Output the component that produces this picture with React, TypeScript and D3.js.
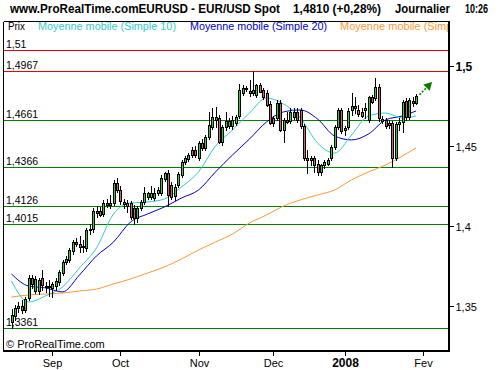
import * as d3 from 'd3';

const WIDTH = 500;
const HEIGHT = 370;
const FRAME = { left: 3.5, right: 449, top: 21.5, bottom: 350.5 };
const FONT = '"Liberation Sans", Arial, sans-serif';

// daily bars, 16 Aug 2007 -> 30 Jan 2008
const opens = [
  1.34, 1.3438, 1.3488, 1.35, 1.3475, 1.355, 1.3675, 1.3594, 1.3594, 1.3675,
  1.3619, 1.3619, 1.3613, 1.3625, 1.365, 1.3706, 1.3775, 1.3788, 1.3844, 1.39,
  1.3888, 1.3869, 1.3863, 1.3975, 1.3981, 1.4094, 1.4094, 1.4075, 1.4144, 1.4131,
  1.4144, 1.4269, 1.4225, 1.415, 1.4125, 1.4144, 1.4113, 1.405, 1.4113, 1.415,
  1.4181, 1.4181, 1.4175, 1.4206, 1.4206, 1.4294, 1.4331, 1.4256, 1.4188, 1.4256,
  1.4319, 1.44, 1.4419, 1.4475, 1.4475, 1.4425, 1.4519, 1.4488, 1.4556, 1.4619,
  1.4663, 1.4675, 1.4525, 1.4619, 1.4625, 1.4625, 1.4644, 1.4688, 1.4831, 1.4863,
  1.4844, 1.4831, 1.4819, 1.4881, 1.485, 1.4831, 1.4763, 1.4675, 1.4675, 1.4769,
  1.46, 1.4663, 1.4656, 1.4681, 1.4713, 1.4725, 1.4625, 1.4425, 1.4413, 1.4425,
  1.4388, 1.4338, 1.4381, 1.4388, 1.4425, 1.4494, 1.4619, 1.4725, 1.46, 1.4619,
  1.4725, 1.475, 1.4725, 1.4713, 1.4725, 1.4663, 1.4806, 1.48, 1.4869, 1.4669,
  1.4663, 1.4644, 1.4644, 1.4425, 1.4638, 1.465, 1.4781, 1.4681, 1.4781, 1.4769,
];
const highs = [
  1.3481, 1.3506, 1.3525, 1.3538, 1.3556, 1.3694, 1.3694, 1.3688, 1.3675, 1.3725,
  1.365, 1.3663, 1.365, 1.3675, 1.3725, 1.3788, 1.3813, 1.3863, 1.3913, 1.3925,
  1.3938, 1.3913, 1.3988, 1.4013, 1.4113, 1.4125, 1.4119, 1.4163, 1.4169, 1.4194,
  1.4288, 1.43, 1.425, 1.4169, 1.4163, 1.4156, 1.4131, 1.4125, 1.4163, 1.4244,
  1.4213, 1.425, 1.4238, 1.4244, 1.4319, 1.4338, 1.435, 1.4275, 1.4263, 1.4338,
  1.4413, 1.4438, 1.4456, 1.4494, 1.45, 1.4531, 1.4544, 1.4569, 1.4713, 1.4738,
  1.4744, 1.4694, 1.4631, 1.4713, 1.4675, 1.4688, 1.4694, 1.4888, 1.4881, 1.4875,
  1.4913, 1.4967, 1.4888, 1.4894, 1.4863, 1.485, 1.4781, 1.4688, 1.4788, 1.4788,
  1.4675, 1.4713, 1.4738, 1.4738, 1.4738, 1.4738, 1.4638, 1.4475, 1.4438, 1.4438,
  1.4413, 1.4388, 1.4413, 1.4425, 1.4506, 1.4631, 1.4738, 1.4738, 1.4625, 1.4738,
  1.4831, 1.4806, 1.4756, 1.4738, 1.4769, 1.4813, 1.4819, 1.4925, 1.4888, 1.4688,
  1.4675, 1.4663, 1.4656, 1.465, 1.4675, 1.4788, 1.48, 1.48, 1.4806, 1.4825,
];
const lows = [
  1.3361, 1.3413, 1.3463, 1.3456, 1.3463, 1.3538, 1.3613, 1.3581, 1.3575, 1.36,
  1.3588, 1.3563, 1.3556, 1.36, 1.3631, 1.3694, 1.3763, 1.3775, 1.3825, 1.3875,
  1.3838, 1.3838, 1.3844, 1.395, 1.3963, 1.4056, 1.4063, 1.4063, 1.4119, 1.4113,
  1.4131, 1.4213, 1.4138, 1.4113, 1.4088, 1.4044, 1.4015, 1.4025, 1.41, 1.4138,
  1.4169, 1.4169, 1.4163, 1.4194, 1.4194, 1.4281, 1.4126, 1.4169, 1.4163, 1.4244,
  1.4306, 1.4388, 1.4406, 1.4431, 1.4431, 1.4413, 1.4475, 1.4475, 1.4544, 1.4606,
  1.4619, 1.4519, 1.4506, 1.46, 1.4613, 1.4606, 1.4631, 1.4675, 1.4819, 1.4844,
  1.4813, 1.4819, 1.4806, 1.4844, 1.4794, 1.475, 1.4638, 1.4625, 1.4663, 1.4594,
  1.4525, 1.4644, 1.4644, 1.4669, 1.465, 1.4613, 1.4413, 1.4331, 1.4381, 1.4338,
  1.4319, 1.4319, 1.4363, 1.4381, 1.4413, 1.4481, 1.4606, 1.4581, 1.4569, 1.4606,
  1.4694, 1.4706, 1.4688, 1.4681, 1.4675, 1.465, 1.4769, 1.4788, 1.4656, 1.4644,
  1.4613, 1.4613, 1.4366, 1.4413, 1.46, 1.4588, 1.4663, 1.4669, 1.475, 1.4763,
];
const closes = [
  1.3444, 1.3488, 1.35, 1.3475, 1.3544, 1.3675, 1.3638, 1.3669, 1.3663, 1.3631,
  1.3625, 1.3625, 1.3638, 1.3656, 1.3713, 1.3775, 1.3794, 1.385, 1.39, 1.3888,
  1.3869, 1.3875, 1.3975, 1.3981, 1.4094, 1.4081, 1.4069, 1.4144, 1.4131, 1.4144,
  1.4269, 1.4225, 1.4156, 1.4138, 1.4144, 1.4056, 1.405, 1.4113, 1.415, 1.4206,
  1.4206, 1.4206, 1.4206, 1.4225, 1.43, 1.4331, 1.4194, 1.4181, 1.4244, 1.4325,
  1.44, 1.4425, 1.4444, 1.4444, 1.4444, 1.4519, 1.4488, 1.4556, 1.4631, 1.4681,
  1.4681, 1.4525, 1.4619, 1.4656, 1.4656, 1.4663, 1.4681, 1.485, 1.4863, 1.4856,
  1.4831, 1.485, 1.4881, 1.4838, 1.4806, 1.4756, 1.4644, 1.4644, 1.4769, 1.46,
  1.4663, 1.465, 1.4713, 1.4713, 1.4663, 1.4625, 1.4425, 1.4413, 1.4425, 1.4381,
  1.4338, 1.4381, 1.44, 1.4413, 1.4494, 1.4619, 1.4725, 1.4594, 1.4613, 1.4719,
  1.475, 1.4738, 1.47, 1.4688, 1.4738, 1.4806, 1.4775, 1.4869, 1.4675, 1.4656,
  1.4625, 1.4631, 1.4425, 1.4638, 1.465, 1.4775, 1.4681, 1.4788, 1.4769, 1.481,
];

// moving averages read every 5 bars
const maIndex = [0, 5, 10, 15, 20, 25, 30, 35, 40, 45, 50, 55, 60, 65, 70, 75, 80, 85, 90, 95, 100, 105, 110, 115, 119];
const ma10 = [
  1.3656, 1.3525, 1.3563, 1.3619, 1.3738, 1.3863, 1.4075, 1.4144, 1.415, 1.4169, 1.4244, 1.4338, 1.45,
  1.46, 1.4706, 1.48, 1.4763, 1.4675, 1.4519, 1.4456, 1.4569, 1.4688, 1.4706, 1.4675, 1.4688,
];
const ma20 = [
  1.37, 1.3625, 1.3613, 1.3588, 1.3694, 1.3813, 1.39, 1.4025, 1.4075, 1.4119, 1.4175, 1.4225, 1.4338,
  1.4444, 1.4544, 1.465, 1.4713, 1.4725, 1.4669, 1.4563, 1.4538, 1.4575, 1.4663, 1.4688, 1.4719,
];
const maLong = [
  1.3556, 1.3569, 1.3575, 1.3581, 1.3594, 1.3606, 1.3638, 1.3669, 1.3706, 1.3744, 1.3794, 1.385, 1.39,
  1.395, 1.4019, 1.4069, 1.4125, 1.4163, 1.4194, 1.4225, 1.4288, 1.4338, 1.4381, 1.4438, 1.4488,
];

const monthLabels = ['Sep', 'Oct', 'Nov', 'Dec', '2008', 'Fev'];
const monthIndex = [12, 32, 55, 77, 98, 121];
const yTicks = [1.35, 1.4, 1.45, 1.5];
const resistanceLevels = [1.51, 1.4967];
const supportLevels = [1.4661, 1.4366, 1.4126, 1.4015, 1.3361];
const trendArrow = { fromIndex: 120, fromPrice: 1.482, toIndex: 123.7, toPrice: 1.49 };

const legendLabels = ['Prix', 'Moyenne mobile (Simple 10)', 'Moyenne mobile (Simple 20)', 'Moyenne mobile (Simple 100)'];
const legendColors = ['#000000', '#33cccc', '#0000cc', '#ff9933'];
const legendX = [8, 38, 190, 340];
const legendW = [17, 138, 137, 146];

const fr = d3.formatLocale({ decimal: ',', thousands: ' ', grouping: [3], currency: ['', ''] });
const fmt = fr.format('~g');

const App = () => {
  const xScale = d3.scaleLinear().domain([0, 119]).range([11.5, 416.1]);
  const yScale = d3.scaleLinear().domain([1.35, 1.5]).range([306, 66]);

  const maLine = (values: number[]) =>
    d3
      .line<number>()
      .x((_, k) => xScale(maIndex[k]))
      .y((d) => yScale(d))
      .curve(d3.curveMonotoneX)(values) || '';

  const candles = closes.map((c, i) => {
    const cx = Math.round(xScale(i));
    const o = opens[i];
    const top = Math.round(yScale(Math.max(o, c)));
    const bot = Math.round(yScale(Math.min(o, c)));
    const up = c >= o;
    return (
      <g key={i}>
        <line
          x1={cx + 0.5}
          x2={cx + 0.5}
          y1={Math.round(yScale(highs[i]))}
          y2={Math.round(yScale(lows[i])) + 1}
          stroke="#000"
          strokeWidth={1}
        />
        <rect
          x={cx - 0.5}
          y={top + 0.5}
          width={2}
          height={Math.max(bot - top, 1)}
          fill={up ? '#33cc33' : '#cc6666'}
          stroke="#000"
          strokeWidth={1}
        />
      </g>
    );
  });

  const levelLine = (v: number, color: string) => {
    const y = Math.round(yScale(v)) + 0.5;
    return (
      <g key={v}>
        <line x1={FRAME.left} x2={FRAME.right - 1} y1={y} y2={y} stroke={color} strokeWidth={1} />
        <text x={6} y={y - 2.5} fontSize={10.5} fill="#000">
          {fmt(v)}
        </text>
      </g>
    );
  };

  const ax0 = xScale(trendArrow.fromIndex);
  const ay0 = yScale(trendArrow.fromPrice);
  const ax1 = xScale(trendArrow.toIndex);
  const ay1 = yScale(trendArrow.toPrice);
  const ang = Math.atan2(ay1 - ay0, ax1 - ax0);
  const headLen = 8;
  const headW = 4.5;
  const bx = ax1 - headLen * Math.cos(ang);
  const by = ay1 - headLen * Math.sin(ang);
  const head = [
    [ax1, ay1],
    [bx + headW * Math.sin(ang), by - headW * Math.cos(ang)],
    [bx - headW * Math.sin(ang), by + headW * Math.cos(ang)],
  ];

  return (
    <svg
      width={WIDTH}
      height={HEIGHT}
      style={{ position: 'absolute', left: 0, top: 0, background: '#fff' }}
      fontFamily={FONT}
    >
      <defs>
        <clipPath id="plot">
          <rect x={FRAME.left} y={FRAME.top} width={FRAME.right - FRAME.left - 1} height={FRAME.bottom - FRAME.top} />
        </clipPath>
      </defs>
      <rect width={WIDTH} height={HEIGHT} fill="#fff" />

      {/* header */}
      <g fontWeight="bold" fontSize={12.5} fill="#000">
        <text x={10} y={13} textLength={270} lengthAdjust="spacingAndGlyphs">
          www.ProRealTime.comEURUSD - EUR/USD Spot
        </text>
        <text x={293} y={13} textLength={88} lengthAdjust="spacingAndGlyphs">
          1,4810 (+0,28%)
        </text>
        <text x={395} y={13} textLength={55} lengthAdjust="spacingAndGlyphs">
          Journalier
        </text>
        <text x={465} y={13} textLength={23} lengthAdjust="spacingAndGlyphs">
          10:26
        </text>
      </g>

      {/* legend, last entry cut by the frame */}
      <g clipPath="url(#plot)" fontSize={11}>
        {legendLabels.map((l, k) => (
          <text key={l} x={legendX[k]} y={30} fill={legendColors[k]} textLength={legendW[k]} lengthAdjust="spacingAndGlyphs">
            {l}
          </text>
        ))}
      </g>

      {/* levels */}
      <g shapeRendering="crispEdges">
        {resistanceLevels.map((v) => levelLine(v, '#ee0000'))}
        {supportLevels.map((v) => levelLine(v, '#008000'))}
      </g>

      <g clipPath="url(#plot)">
        <path d={maLine(maLong)} fill="none" stroke="#ff9933" strokeWidth={1} />
        <path d={maLine(ma20)} fill="none" stroke="#0000cc" strokeWidth={1} />
        <path d={maLine(ma10)} fill="none" stroke="#33cccc" strokeWidth={1} />
        <g shapeRendering="crispEdges">{candles}</g>
      </g>

      {/* trend arrow */}
      <line x1={ax0} y1={ay0} x2={bx} y2={by} stroke="#008000" strokeWidth={1.6} strokeDasharray="2 1.5" />
      <polygon points={head.map((p) => p.join(',')).join(' ')} fill="#008000" />

      <text x={6} y={348} fontSize={11} fill="#000">
        © ProRealTime.com
      </text>

      {/* frame */}
      <g shapeRendering="crispEdges" stroke="#000" fill="none">
        <line x1={FRAME.left} x2={FRAME.right + 1} y1={FRAME.top} y2={FRAME.top} strokeWidth={1.5} />
        <line x1={FRAME.left} x2={FRAME.left} y1={FRAME.top} y2={FRAME.bottom + 1} strokeWidth={1.5} />
        <line x1={FRAME.right} x2={FRAME.right} y1={FRAME.top} y2={FRAME.bottom + 1} strokeWidth={2} />
        <line x1={FRAME.left} x2={FRAME.right + 1} y1={FRAME.bottom} y2={FRAME.bottom} strokeWidth={2} />
      </g>

      {/* right price axis */}
      <g fontSize={11} fill="#000">
        {yTicks.map((t) => {
          const y = Math.round(yScale(t)) + 0.5;
          return (
            <g key={t}>
              <line x1={450} x2={454} y1={y} y2={y} stroke="#000" shapeRendering="crispEdges" />
              <text x={455.5} y={y + 4} fontWeight={t === 1.5 ? 'bold' : 'normal'} fontSize={t === 1.5 ? 12 : 11}>
                {fmt(t)}
              </text>
            </g>
          );
        })}
      </g>

      {/* time axis */}
      <g fontSize={11} fill="#000" textAnchor="middle">
        {monthLabels.map((m, k) => {
          const x = Math.round(xScale(monthIndex[k])) + 0.5;
          return (
            <g key={m}>
              <line x1={x} x2={x} y1={351} y2={356} stroke="#000" shapeRendering="crispEdges" />
              <text x={x} y={367} fontWeight={m === '2008' ? 'bold' : 'normal'} fontSize={m === '2008' ? 12 : 11}>
                {m}
              </text>
            </g>
          );
        })}
      </g>
    </svg>
  );
};

export default App;
